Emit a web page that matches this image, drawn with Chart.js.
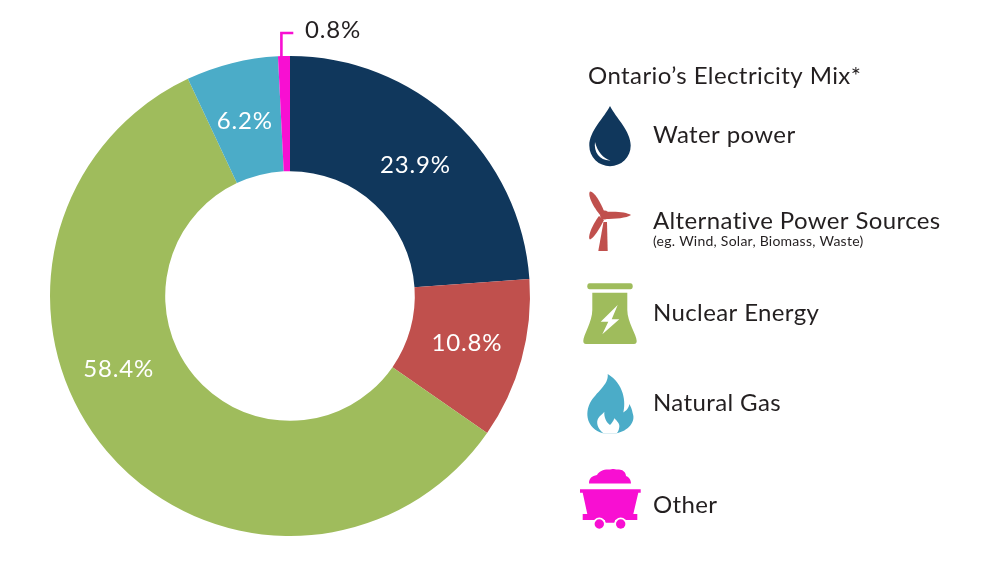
<!DOCTYPE html>
<html>
<head>
<meta charset="utf-8">
<title>Ontario's Electricity Mix</title>
<script src="https://cdn.jsdelivr.net/npm/chart.js@4"></script>
<style>
  html, body { margin: 0; padding: 0; background: #fff; }
  canvas { display: block; }
</style>
</head>
<body>
<canvas id="mixChart" width="991" height="570"></canvas>
<script>
const chartTitle = "Ontario’s Electricity Mix*";
const sources = ["Water power", "Alternative Power Sources", "Nuclear Energy", "Natural Gas", "Other"];
const shares = [23.9, 10.8, 58.4, 6.2, 0.8];
const colors = ["#10375c", "#c0504d", "#9fbc5c", "#4bacc8", "#f80fd2"];
const altNote = "(eg. Wind, Solar, Biomass, Waste)";

const textColor = "#231f20";
const fontName = "Lato";

// icon outlines, in page pixels. white parts are punched over the colour
const icons = [
  { fill: ["M610 106C604 118 589.3 131 589.3 145.5A20.7 20.7 0 0 0 630.7 145.5C630.7 131 616 118 610 106Z"],
    white: ["M595 142C593.5 152 600 161 610.5 160.5C603 158 597.5 152 595 142Z"] },
  { fill: ["M590 191.5C594 191 601 203 604 211L600 215C594 208 587 195 590 191.5Z",
           "M605 212C615 211 627 212 631 215C627 218 615 219 605 219Z",
           "M599 216L604 220C600 228 594 238 590 239.5C587 238 592 225 599 216Z",
           "M603.5 222L607 222L607.7 251L598.3 251Z",
           "M600 215A4.5 4.5 0 1 0 609 215A4.5 4.5 0 1 0 600 215Z"],
    white: [] },
  { fill: ["M589.5 283.3L630.5 283.3Q632.7 283.3 632.7 286.3Q632.7 289.3 630.5 289.3L589.5 289.3Q587.3 289.3 587.3 286.3Q587.3 283.3 589.5 283.3Z",
           "M592.3 292.7L627.3 292.7L627.3 310C627.3 322 636.7 335 636.7 341Q636.7 344 634 344L586 344Q583.3 344 583.3 341C583.3 335 592.3 322 592.3 310Z"],
    white: ["M617.7 305L600.7 321.7L608.3 321.7L602.3 334.3L619.3 319.3L611.7 319.3Z"] },
  { fill: ["M607.7 374C609 385 596 392 590 403C585 413 586 428 603 433.3L616.7 433.3C628 431 636 422 632.7 413.3C632 409 630.5 406 629.3 404C629 408 626 411 623.3 412.5C626 402 624 384 607.7 374Z"],
    white: ["M603.3 433.3C597 428 596 422 598.3 418.3C600 415 603 414 604.3 411.7C604 417 606 422 610 425C612 423 613.5 421 614.3 418.3C617 421 620 424 619.3 427C619 430 618 432 616.7 433.3Z"] },
  { fill: ["M589 483.5C589 478 592 476 597 475C599 471 604 469 610 469.5C613 468 616 470 618 469.5C622 469 626 472 626 476C629 477 631 480 631 483.5Z",
           "M580 489.3L640.7 489.3L640.7 492.7L638.3 492.7L633.3 514L637.3 514L637.3 520L615 520L615 522.7L605 522.7L605 520L582.7 520L582.7 514L587.3 514L582.7 492.7L580 492.7Z"],
    white: ["M592.8 524A6.5 6.5 0 1 0 605.8 524A6.5 6.5 0 1 0 592.8 524Z",
            "M614.2 524A6.5 6.5 0 1 0 627.2 524A6.5 6.5 0 1 0 614.2 524Z"],
    over: ["M594.6 524A4.7 4.7 0 1 0 604 524A4.7 4.7 0 1 0 594.6 524Z",
           "M616 524A4.7 4.7 0 1 0 625.4 524A4.7 4.7 0 1 0 616 524Z"] }
];

function put(ctx, text, x, y, size, color, spacing) {
  ctx.font = size + "px " + fontName;
  ctx.fillStyle = color;
  ctx.letterSpacing = (spacing || 0) + "px";
  ctx.fillText(text, x, y);
}

const sliceLabels = {
  id: "sliceLabels",
  afterDatasetsDraw(chart) {
    const ctx = chart.ctx;
    const arcs = chart.getDatasetMeta(0).data;
    // the big slice has its label pushed up the ring, not at the arc middle
    const nudge = [[1, 2.5], [1, -1.5], [-32, -44], [-1, 2.5]];
    ctx.save();
    ctx.textAlign = "center";
    ctx.textBaseline = "middle";
    for (let i = 0; i < 4; i++) {
      const c = arcs[i].getCenterPoint();
      put(ctx, shares[i].toFixed(1) + "%", c.x + nudge[i][0], c.y + nudge[i][1], 24, "#fff", 0.8);
    }
    ctx.textAlign = "left";
    ctx.textBaseline = "alphabetic";
    put(ctx, shares[4].toFixed(1) + "%", 305, 38, 24, textColor, 0.8);

    // leader for the thin slice
    ctx.strokeStyle = colors[4];
    ctx.lineWidth = 2.6;
    ctx.beginPath();
    ctx.moveTo(281.4, 57);
    ctx.lineTo(281.4, 33);
    ctx.lineTo(293.3, 33);
    ctx.stroke();
    ctx.restore();
  }
};

const sideLegend = {
  id: "sideLegend",
  afterDraw(chart) {
    const ctx = chart.ctx;
    const baselines = [143, 229, 321, 411, 513];
    ctx.save();
    put(ctx, chartTitle, 588, 84, 24, textColor, 0.42);
    sources.forEach(function (name, i) {
      ctx.fillStyle = colors[i];
      icons[i].fill.forEach(function (d) { ctx.fill(new Path2D(d)); });
      ctx.fillStyle = "#fff";
      icons[i].white.forEach(function (d) { ctx.fill(new Path2D(d)); });
      ctx.fillStyle = colors[i];
      (icons[i].over || []).forEach(function (d) { ctx.fill(new Path2D(d)); });
      put(ctx, name, 653, baselines[i], 24, textColor, 0.38);
    });
    put(ctx, altNote, 653, 246, 14, textColor, 0.25);
    ctx.restore();
  }
};

new Chart(document.querySelector("#mixChart"), {
  type: "doughnut",
  data: {
    labels: sources,
    datasets: [{ data: shares, backgroundColor: colors, borderWidth: 0 }]
  },
  options: {
    responsive: false,
    animation: false,
    cutout: "52%",
    layout: { padding: { left: 50, right: 461, top: 56, bottom: 34 } },
    plugins: {
      legend: { display: false },
      tooltip: { enabled: false }
    }
  },
  plugins: [sliceLabels, sideLegend]
});
</script>
</body>
</html>
